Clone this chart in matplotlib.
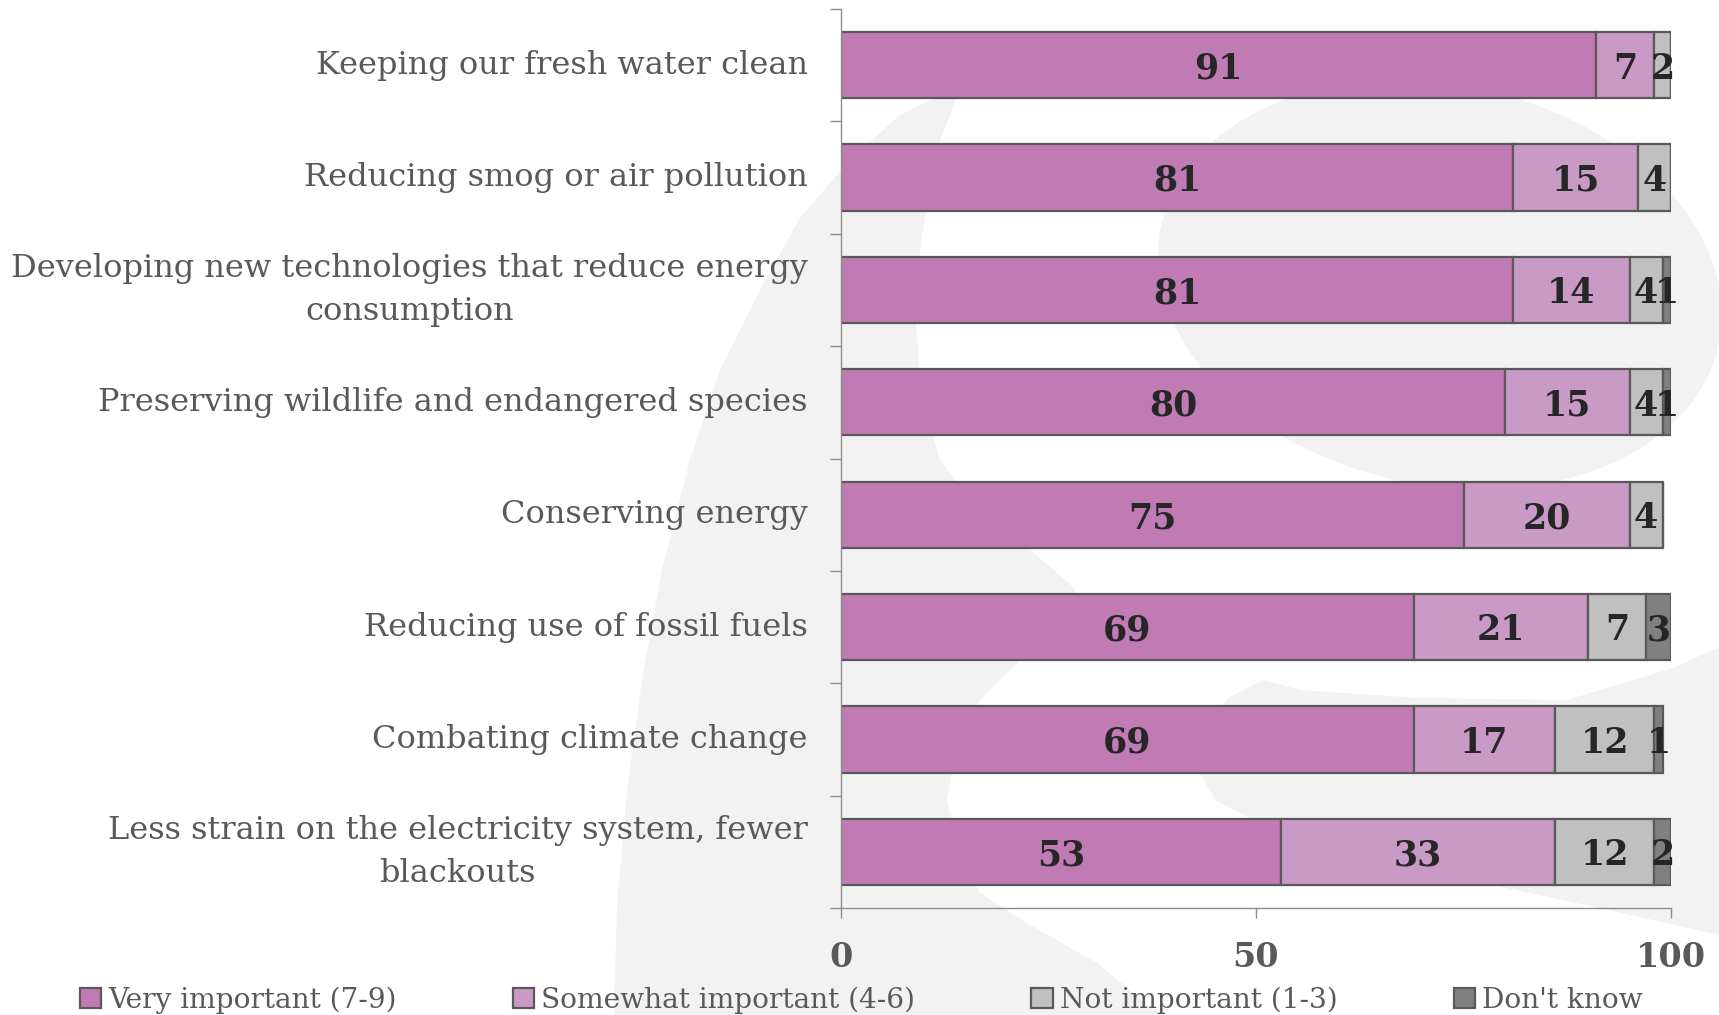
import numpy as np
import matplotlib
matplotlib.use('Agg')
from matplotlib import pyplot as plt
from matplotlib.patches import Polygon

plt.rcParams['font.family'] = ['DejaVu Serif']

categories = ['Keeping our fresh water clean',
              'Reducing smog or air pollution',
              'Developing new technologies that reduce energy\nconsumption',
              'Preserving wildlife and endangered species',
              'Conserving energy',
              'Reducing use of fossil fuels',
              'Combating climate change',
              'Less strain on the electricity system, fewer\nblackouts']
very_important = [91, 81, 81, 80, 75, 69, 69, 53]
somewhat_important = [7, 15, 14, 15, 20, 21, 17, 33]
not_important = [2, 4, 4, 4, 4, 7, 12, 12]
dont_know = [0, 0, 1, 1, 0, 3, 1, 2]
series_names = ['Very important (7-9)', 'Somewhat important (4-6)',
                'Not important (1-3)', "Don't know"]
colors = ['#C07BB5', '#C99AC6', '#C0C0C0', '#808080']
xticks = [0, 50, 100]

W, H = 1719, 1015
fig = plt.figure(figsize=(W / 100, H / 100), dpi=100)

# light watermark in the background (pixel outlines, y from top)
def bg_shape(pts):
    pts = np.array(pts, dtype=float)
    xy = np.column_stack([pts[:, 0] / W, 1 - pts[:, 1] / H])
    fig.add_artist(Polygon(xy, closed=True, transform=fig.transFigure,
                           facecolor='#F2F2F2', edgecolor='none', zorder=-5))

bg_shape([(955, 88), (900, 115), (850, 160), (800, 218), (760, 290), (720, 370),
          (690, 460), (662, 570), (642, 680), (627, 790), (617, 906),
          (614, 1015), (1160, 1015), (1097, 963), (1030, 925), (980, 893),
          (958, 850), (947, 800), (955, 750), (980, 700), (1020, 660),
          (1060, 632), (1085, 612), (1073, 587), (1027, 547), (975, 505),
          (940, 460), (922, 400), (916, 324), (920, 250), (928, 194),
          (940, 140), (958, 95)])
t = np.linspace(0, 2 * np.pi, 120)
ang = np.deg2rad(12)
ex, ey = 285 * np.cos(t), 200 * np.sin(t)
bg_shape(np.column_stack([1440 + ex * np.cos(ang) - ey * np.sin(ang),
                          285 + ex * np.sin(ang) + ey * np.cos(ang)]))
bg_shape([(1263, 680), (1300, 690), (1420, 698), (1567, 700), (1673, 668),
          (1719, 647), (1719, 935), (1600, 908), (1469, 880), (1350, 845),
          (1250, 818), (1215, 800), (1198, 770), (1205, 730), (1228, 698)])

ax = fig.add_axes([841 / W, 1 - 908 / H, (1671 - 841) / W, (908 - 9) / H])
ax.set_facecolor('none')

y = np.arange(len(categories))
left = np.zeros(len(categories))
for name, vals, c in zip(series_names,
                         [very_important, somewhat_important, not_important, dont_know],
                         colors):
    vals = np.array(vals)
    ax.barh(y, vals, left=left, height=0.59, color=c, edgecolor='#595959',
            linewidth=1.6, label=name)
    for yi, l, v in zip(y, left, vals):
        if v > 0:
            ax.text(l + v / 2, yi + 0.03, str(v), ha='center', va='center',
                    fontsize=25, fontweight='bold', color='#262626')
    left = left + vals

ax.set_xlim(0, 100)
ax.set_ylim(7.5, -0.5)
ax.set_xticks(xticks)
ax.set_xticklabels([str(v) for v in xticks], fontsize=24, fontweight='bold', color='#595959')
ax.tick_params(axis='x', length=7.5, width=1, color='#8c8c8c', pad=16)
ax.set_yticks(y)
ax.set_yticklabels(categories, fontsize=23, color='#595959')
for lab in ax.get_yticklabels():
    lab.set_multialignment('center')
    lab.set_linespacing(1.5)
    lab.set_va('center')
ax.tick_params(axis='y', which='major', length=0, pad=24)
ax.set_yticks(np.arange(-0.5, 8, 1), minor=True)
ax.tick_params(axis='y', which='minor', length=8, width=1, color='#8c8c8c')

for s in ['top', 'right']:
    ax.spines[s].set_visible(False)
for s in ['left', 'bottom']:
    ax.spines[s].set_color('#8c8c8c')
    ax.spines[s].set_linewidth(1)

fig.legend(loc='center left', bbox_to_anchor=(80 / W, 1 - 1000 / H), ncol=4,
           frameon=False, fontsize=20.2, labelcolor='#595959',
           handlelength=0.75, handleheight=0.75, handletextpad=0.25,
           columnspacing=4.15, borderpad=0, borderaxespad=0)

fig.savefig('out.png', dpi=100)
